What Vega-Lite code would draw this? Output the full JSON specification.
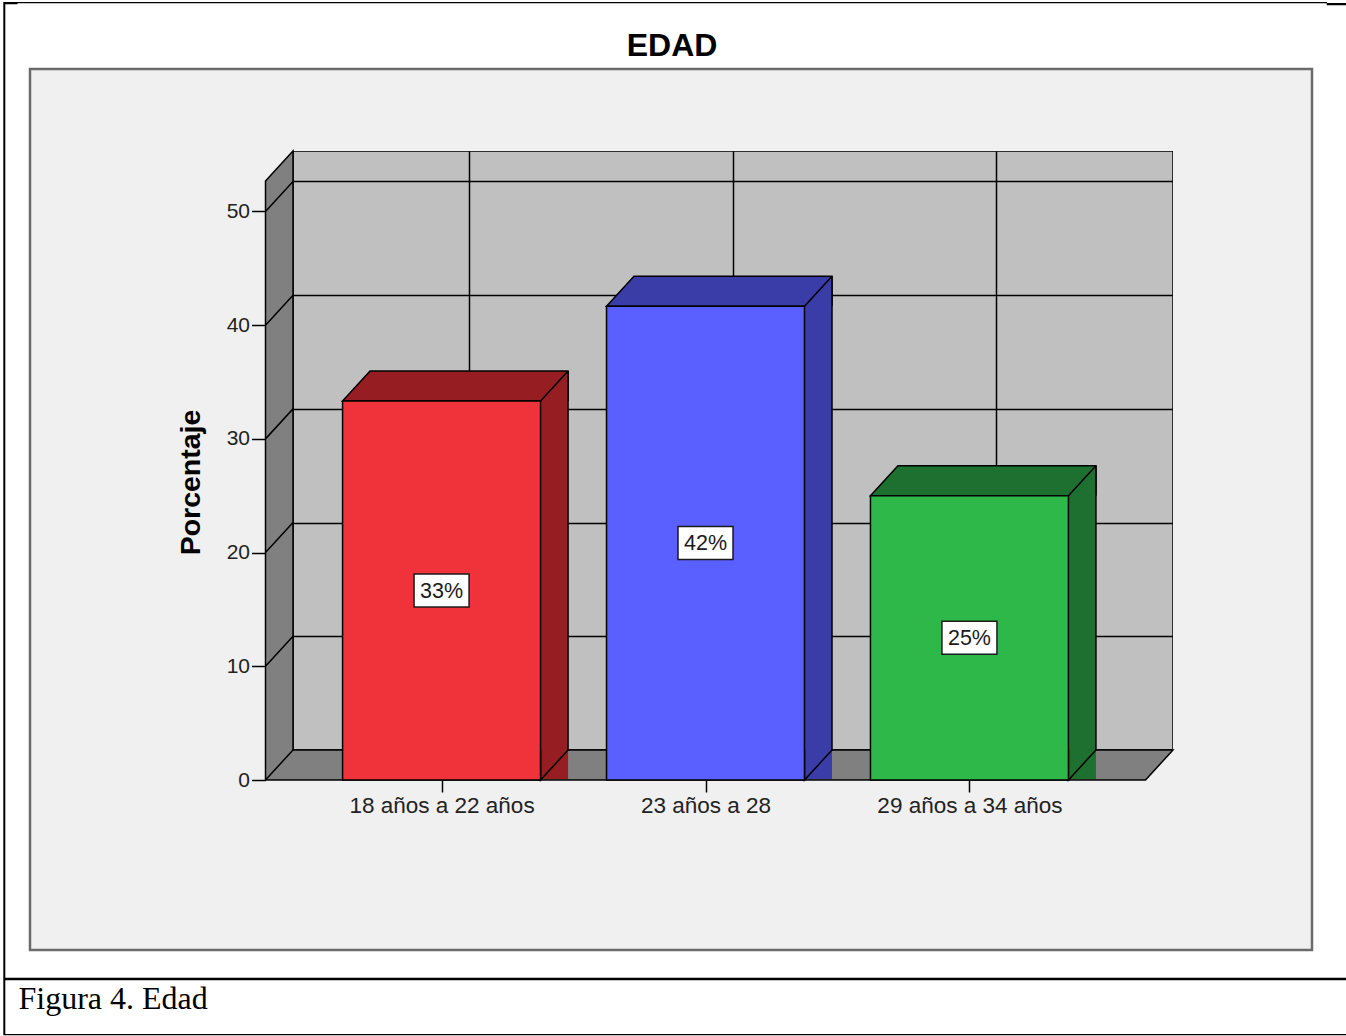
{
  "$schema": "https://vega.github.io/schema/vega-lite/v6.json",
  "width": 880,
  "height": 599,
  "autosize": "none",
  "padding": {"left": 293, "top": 151, "right": 173, "bottom": 286},
  "background": "white",
  "title": {
    "text": "EDAD",
    "font": "Liberation Sans",
    "fontSize": 32,
    "fontWeight": "bold",
    "color": "#000000",
    "anchor": "middle",
    "frame": "group",
    "baseline": "alphabetic",
    "dx": -61,
    "offset": -86
  },
  "config": {
    "view": {"fill": "#c0c0c0", "stroke": "#000000", "strokeWidth": 1.5},
    "font": "Liberation Sans"
  },
  "data": {
    "values": [
      {"grupo": "18 años a 22 años", "porcentaje": 33.33},
      {"grupo": "23 años a 28", "porcentaje": 41.67},
      {"grupo": "29 años a 34 años", "porcentaje": 25.0}
    ]
  },
  "resolve": {
    "scale": {"y": "independent"},
    "axis": {"x": "independent", "y": "independent"}
  },
  "layer": [
    {
      "description": "light panel around the plot, with a hole for the back wall",
      "transform": [{"aggregate": [{"op": "count", "as": "n"}]}],
      "mark": {"type": "point", "shape": "M-703,-381.5H579V499.5H-703ZM-440,-299.5V299.5H440V-299.5Z", "size": 4, "filled": true, "fill": "#f0f0f0", "strokeWidth": 0, "opacity": 1},
      "encoding": {}
    },
    {
      "description": "panel border",
      "transform": [{"aggregate": [{"op": "count", "as": "n"}]}],
      "mark": {"type": "point", "shape": "M-703,-381.5H579V499.5H-703Z", "size": 4, "filled": false, "stroke": "#6b6b6b", "strokeWidth": 2.5, "opacity": 1},
      "encoding": {}
    },
    {
      "description": "table cell rules of the figure",
      "transform": [{"aggregate": [{"op": "count", "as": "n"}]}],
      "mark": {"type": "point", "shape": "M-729.7,-448.5H-727.7V584.5H-729.7ZM-729.7,-448.5H594V-447.3H-729.7ZM-729.7,-448.5H-715.5V-446.2H-729.7ZM593.7,-447.5H613V-445.2H593.7ZM-729.7,527.2H613V529.8H-729.7ZM-729.7,583.5H613V584.8H-729.7Z", "size": 4, "filled": true, "fill": "#000000", "strokeWidth": 0, "opacity": 1},
      "encoding": {}
    },
    {
      "description": "left wall and floor of the 3-D box, with the wall grid diagonals",
      "transform": [{"aggregate": [{"op": "count", "as": "n"}]}],
      "mark": {"type": "point", "shape": "M-467.5,-269.5L-440,-299.5L-440,299.5L440,299.5L412.5,329.5L-467.5,329.5ZM-467.5,329.5L-440,299.5M-467.5,215.79L-440,185.79M-467.5,102.09L-440,72.09M-467.5,-11.62L-440,-41.62M-467.5,-125.32L-440,-155.32M-467.5,-239.03L-440,-269.03", "size": 4, "filled": true, "fill": "#808080", "stroke": "#000000", "strokeWidth": 1.5, "opacity": 1},
      "encoding": {}
    },
    {
      "description": "back wall grid",
      "mark": {"type": "bar", "opacity": 0},
      "encoding": {
        "x": {"field": "grupo", "type": "nominal", "sort": null, "scale": {"paddingInner": 0.25, "paddingOuter": 0.292},
          "axis": {"orient": "bottom", "grid": true, "tickBand": "center", "gridColor": "#000000", "gridWidth": 1.5, "gridOpacity": 1, "domain": false, "ticks": false, "labels": false, "title": null, "zindex": 0}},
        "y": {"field": "porcentaje", "type": "quantitative", "scale": {"domain": [0, 52.68], "nice": false},
          "axis": {"orient": "left", "values": [0, 10, 20, 30, 40, 50], "grid": true, "gridColor": "#000000", "gridWidth": 1.5, "gridOpacity": 1, "domain": false, "ticks": false, "labels": false, "title": null, "zindex": 0}}
      }
    },
    {
      "description": "side faces (body)",
      "mark": {"type": "bar", "width": 27.5, "xOffset": 85.25, "yOffset": 29, "y2Offset": 0},
      "encoding": {
        "x": {"field": "grupo", "type": "nominal", "sort": null, "scale": {"paddingInner": 0.25, "paddingOuter": 0.292}, "axis": null},
        "y": {"field": "porcentaje", "type": "quantitative", "scale": {"domain": [0, 52.68], "nice": false}, "axis": null},
        "fill": {"field": "grupo", "type": "nominal", "scale": {"domain": ["18 años a 22 años", "23 años a 28", "29 años a 34 años"], "range": ["#961e22", "#3a3ca8", "#1e7030"]}, "legend": null}
      }
    },
    {
      "description": "side faces (foot)",
      "mark": {"type": "point", "shape": "M71.5,-1L71.5,30L99,0L99,-1", "size": 4, "filled": true, "stroke": "#000000", "strokeWidth": 1.5, "opacity": 1},
      "encoding": {
        "x": {"field": "grupo", "type": "nominal", "sort": null, "scale": {"paddingInner": 0.25, "paddingOuter": 0.292}, "axis": null},
        "y": {"datum": 0, "type": "quantitative", "scale": {"domain": [0, 52.68], "nice": false}, "axis": null},
        "fill": {"field": "grupo", "type": "nominal", "scale": {"domain": ["18 años a 22 años", "23 años a 28", "29 años a 34 años"], "range": ["#961e22", "#3a3ca8", "#1e7030"]}, "legend": null}
      }
    },
    {
      "description": "back vertical edge of each bar",
      "mark": {"type": "rule", "xOffset": 99, "stroke": "#000000", "strokeWidth": 1.5},
      "encoding": {
        "x": {"field": "grupo", "type": "nominal", "sort": null, "scale": {"paddingInner": 0.25, "paddingOuter": 0.292}, "axis": null},
        "y": {"field": "porcentaje", "type": "quantitative", "scale": {"domain": [0, 52.68], "nice": false}, "axis": null},
        "y2": {"datum": 0}
      }
    },
    {
      "description": "top faces",
      "mark": {"type": "point", "shape": "M71.5,30L-126.5,30L-99,0L99,0L99,30M71.5,30L99,0", "size": 4, "filled": true, "stroke": "#000000", "strokeWidth": 1.5, "opacity": 1},
      "encoding": {
        "x": {"field": "grupo", "type": "nominal", "sort": null, "scale": {"paddingInner": 0.25, "paddingOuter": 0.292}, "axis": null},
        "y": {"field": "porcentaje", "type": "quantitative", "scale": {"domain": [0, 52.68], "nice": false}, "axis": null},
        "fill": {"field": "grupo", "type": "nominal", "scale": {"domain": ["18 años a 22 años", "23 años a 28", "29 años a 34 años"], "range": ["#961e22", "#3a3ca8", "#1e7030"]}, "legend": null}
      }
    },
    {
      "description": "front faces",
      "mark": {"type": "bar", "xOffset": -27.5, "yOffset": 30, "y2Offset": 30, "stroke": "#000000", "strokeWidth": 1.5},
      "encoding": {
        "x": {"field": "grupo", "type": "nominal", "sort": null, "scale": {"paddingInner": 0.25, "paddingOuter": 0.292}, "axis": null},
        "y": {"field": "porcentaje", "type": "quantitative", "scale": {"domain": [0, 52.68], "nice": false}, "axis": null},
        "color": {"field": "grupo", "type": "nominal", "scale": {"domain": ["18 años a 22 años", "23 años a 28", "29 años a 34 años"], "range": ["#f0323a", "#5a5fff", "#2eb84a"]}, "legend": null}
      }
    },
    {
      "description": "value label boxes, placed at half height on a doubled scale",
      "mark": {"type": "point", "shape": "M-27.5,-16.5H27.5V16.5H-27.5Z", "size": 4, "filled": true, "fill": "#ffffff", "stroke": "#1a1a1a", "strokeWidth": 1.5, "opacity": 1, "xOffset": -27.5, "yOffset": 30},
      "encoding": {
        "x": {"field": "grupo", "type": "nominal", "sort": null, "scale": {"paddingInner": 0.25, "paddingOuter": 0.292}, "axis": null},
        "y": {"field": "porcentaje", "type": "quantitative", "scale": {"domain": [0, 105.36], "nice": false}, "axis": null}
      }
    },
    {
      "description": "value labels",
      "mark": {"type": "text", "font": "Liberation Sans", "fontSize": 21.5, "color": "#1a1a1a", "align": "center", "baseline": "middle", "xOffset": -27.5, "yOffset": 31},
      "encoding": {
        "x": {"field": "grupo", "type": "nominal", "sort": null, "scale": {"paddingInner": 0.25, "paddingOuter": 0.292}, "axis": null},
        "y": {"field": "porcentaje", "type": "quantitative", "scale": {"domain": [0, 105.36], "nice": false}, "axis": null},
        "text": {"value": {"expr": "format(datum.porcentaje, '.0f') + '%'"}}
      }
    },
    {
      "description": "front axes: ticks and labels on the front plane",
      "mark": {"type": "bar", "opacity": 0},
      "encoding": {
        "x": {"field": "grupo", "type": "nominal", "sort": null, "scale": {"paddingInner": 0.25, "paddingOuter": 0.292},
          "axis": {"orient": "bottom", "offset": 30, "tickOffset": -27.5, "tickBand": "center", "grid": false, "domain": false, "ticks": true, "tickSize": 12, "tickColor": "#000000", "tickWidth": 1.5,
            "labelFont": "Liberation Sans", "labelFontSize": 22.5, "labelColor": "#222222", "labelAngle": 0, "labelPadding": 2, "labelLimit": 500, "labelFlush": false, "labelOverlap": false,
            "title": "Figura 4. Edad", "titleFont": "Liberation Serif", "titleFontSize": 32, "titleFontWeight": "normal", "titleColor": "#000000", "titleX": -275, "titleY": 228, "titleAlign": "left", "titleBaseline": "alphabetic", "zindex": 1}},
        "y": {"field": "porcentaje", "type": "quantitative", "scale": {"domain": [0, 52.68], "nice": false},
          "axis": {"orient": "left", "offset": 27.5, "tickOffset": 30, "values": [0, 10, 20, 30, 40, 50], "grid": false, "domain": false, "tickSize": 14, "tickColor": "#000000", "tickWidth": 1.5,
            "labelFont": "Liberation Sans", "labelFontSize": 21, "labelColor": "#222222", "labelPadding": 2, "labelFlush": false, "labelOverlap": false,
            "title": "Porcentaje", "titleFont": "Liberation Sans", "titleFontSize": 28.5, "titleFontWeight": "bold", "titleColor": "#000000", "titleAngle": -90, "titleX": -66, "titleY": 331, "titleAlign": "center", "titleBaseline": "alphabetic", "zindex": 1}}
      }
    }
  ]
}
